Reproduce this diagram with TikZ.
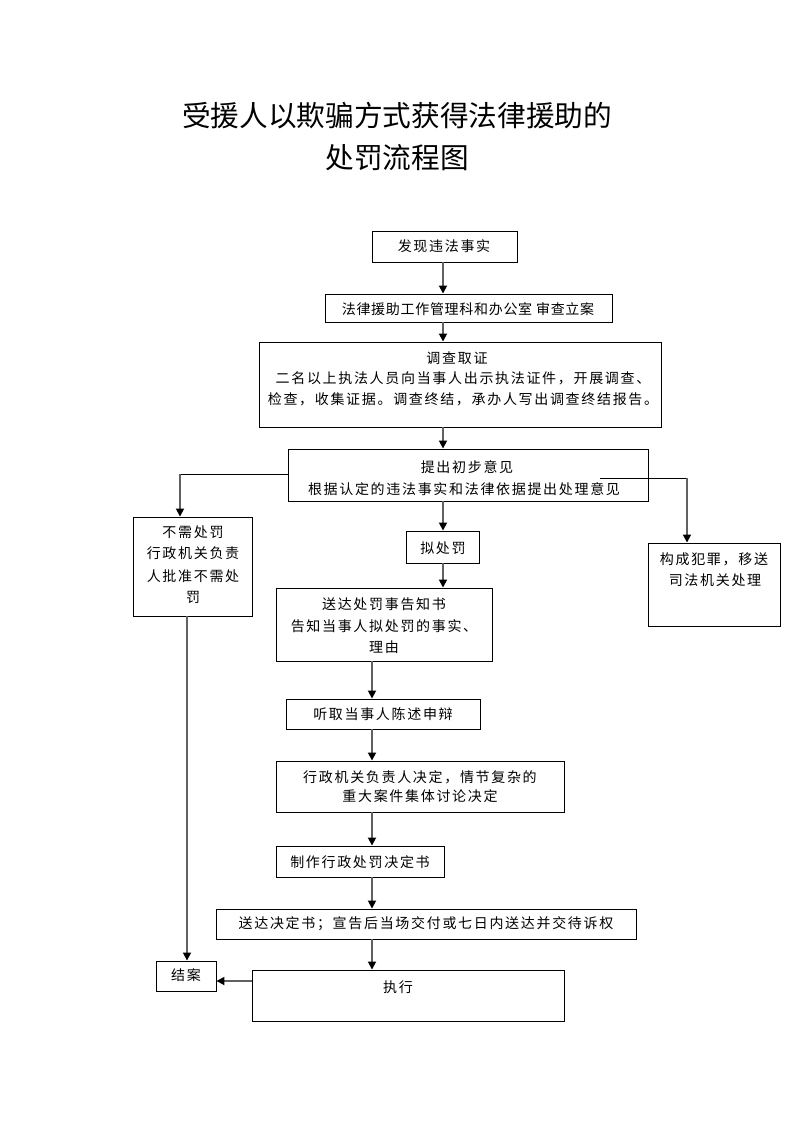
\documentclass[tikz,border=0pt]{standalone}
\usepackage{fontspec}
\usetikzlibrary{arrows.meta,fit}
\newfontfamily\cjktitle{Noto Sans CJK SC}
\newfontfamily\cjkbody[LetterSpace=12]{Noto Sans CJK SC}
\newfontfamily\cjktight[LetterSpace=5]{Noto Sans CJK SC}
\tikzset{
  box/.style={draw=black, line width=0.7pt, inner sep=0pt},
  txt/.style={inner sep=0pt, font=\cjkbody\fontsize{10.5pt}{14pt}\selectfont},
  txttight/.style={inner sep=0pt, font=\cjktight\fontsize{10.5pt}{14pt}\selectfont},
  ttl/.style={inner sep=0pt, font=\cjktitle\fontsize{21.5pt}{26pt}\selectfont},
  arr/.style={draw=black!62, line width=1.3pt, -{Triangle[length=6pt,width=6pt,color=black]}},
  thin/.style={draw=black, line width=0.7pt},
}
\newcommand\mkbox[5]{%
  \path (#2,#3) coordinate (#1-a) (#4,#5) coordinate (#1-b);
  \node[box, fit=(#1-a)(#1-b)] (#1) {};}
\begin{document}
\begin{tikzpicture}[x=0.75pt,y=-0.75pt]
\useasboundingbox (0,0) rectangle (793,1122);
% title
\node[ttl] (ti1) at (397,116) {受援人以欺骗方式获得法律援助的};
\node[ttl] (ti2) at (397,158) {处罚流程图};
% boxes
\mkbox{fx}{372}{231}{517}{262}
\mkbox{lf}{325}{294}{612}{322}
\mkbox{dc}{259}{342}{661}{427}
\mkbox{tc}{288}{449}{648}{501}
\mkbox{bx}{133}{517}{252}{616}
\mkbox{nf}{406}{531}{479}{563}
\mkbox{gc}{648}{543}{780}{626}
\mkbox{sd}{276}{588}{492}{661}
\mkbox{tq}{286}{699}{480}{729}
\mkbox{xz}{276}{761}{564}{812}
\mkbox{zz}{276}{846}{444}{877}
\mkbox{sj}{216}{909}{636}{939}
\mkbox{ja}{156}{961}{216}{991}
\mkbox{zx}{252}{970}{564}{1021}
% texts
\node[txt] (t1) at (444,246) {发现违法事实};
\node[txttight] (t2) at (468,309) {法律援助工作管理科和办公室 审查立案};
\node[txt] (t3) at (457,358) {调查取证};
\node[txt] (t4) at (463,378) {二名以上执法人员向当事人出示执法证件，开展调查、};
\node[txt] (t5) at (463,399) {检查，收集证据。调查终结，承办人写出调查终结报告。};
\node[txt] (t6) at (467,467) {提出初步意见};
\node[txt] (t7) at (464,489) {根据认定的违法事实和法律依据提出处理意见};
\node[txt] (t8) at (193,532) {不需处罚};
\node[txt] (t9) at (193,553) {行政机关负责};
\node[txt] (t10) at (193,576) {人批准不需处};
\node[txt] (t11) at (193,597) {罚};
\node[txt] (t12) at (443,548) {拟处罚};
\node[txt] (t13) at (714,559) {构成犯罪，移送};
\node[txt] (t14) at (715,580) {司法机关处理};
\node[txt] (t15) at (384,604) {送达处罚事告知书};
\node[txt] (t16) at (384,626) {告知当事人拟处罚的事实、};
\node[txt] (t17) at (384,647) {理由};
\node[txt] (t18) at (383,714) {听取当事人陈述申辩};
\node[txt] (t19) at (420,777) {行政机关负责人决定，情节复杂的};
\node[txt] (t20) at (420,796) {重大案件集体讨论决定};
\node[txt] (t21) at (360,862) {制作行政处罚决定书};
\node[txt] (t22) at (426,924) {送达决定书；宣告后当场交付或七日内送达并交待诉权};
\node[txt] (t23) at (186,975) {结案};
\node[txt] (t24) at (398,987) {执行};
% helper coordinates
\coordinate (c1) at (443,0);
\coordinate (c2) at (372,0);
\coordinate (c3) at (0,981);
\coordinate (c4) at (0,474);
\coordinate (lb) at (180,474);
\coordinate (rs) at (600,478);
\coordinate (rb) at (687,478);
\coordinate (c5) at (187,0);
% connectors
\draw[arr] (c1 |- fx.south) -- (c1 |- lf.north);
\draw[arr] (c1 |- lf.south) -- (c1 |- dc.north);
\draw[arr] (c1 |- dc.south) -- (c1 |- tc.north);
\draw[arr] (c1 |- tc.south) -- (c1 |- nf.north);
\draw[arr] (c1 |- nf.south) -- (c1 |- sd.north);
\draw[arr] (c2 |- sd.south) -- (c2 |- tq.north);
\draw[arr] (c2 |- tq.south) -- (c2 |- xz.north);
\draw[arr] (c2 |- xz.south) -- (c2 |- zz.north);
\draw[arr] (c2 |- zz.south) -- (c2 |- sj.north);
\draw[arr] (c2 |- sj.south) -- (c2 |- zx.north);
\draw[arr] (c3 -| zx.west) -- (c3 -| ja.east);
\draw[thin] (c4 -| tc.west) -- (lb);
\draw[arr] (lb) -- (lb |- bx.north);
\draw[thin] (rs) -- (rb);
\draw[arr] (rb) -- (rb |- gc.north);
\draw[arr] (c5 |- bx.south) -- (c5 |- ja.north);
\end{tikzpicture}
\end{document}
